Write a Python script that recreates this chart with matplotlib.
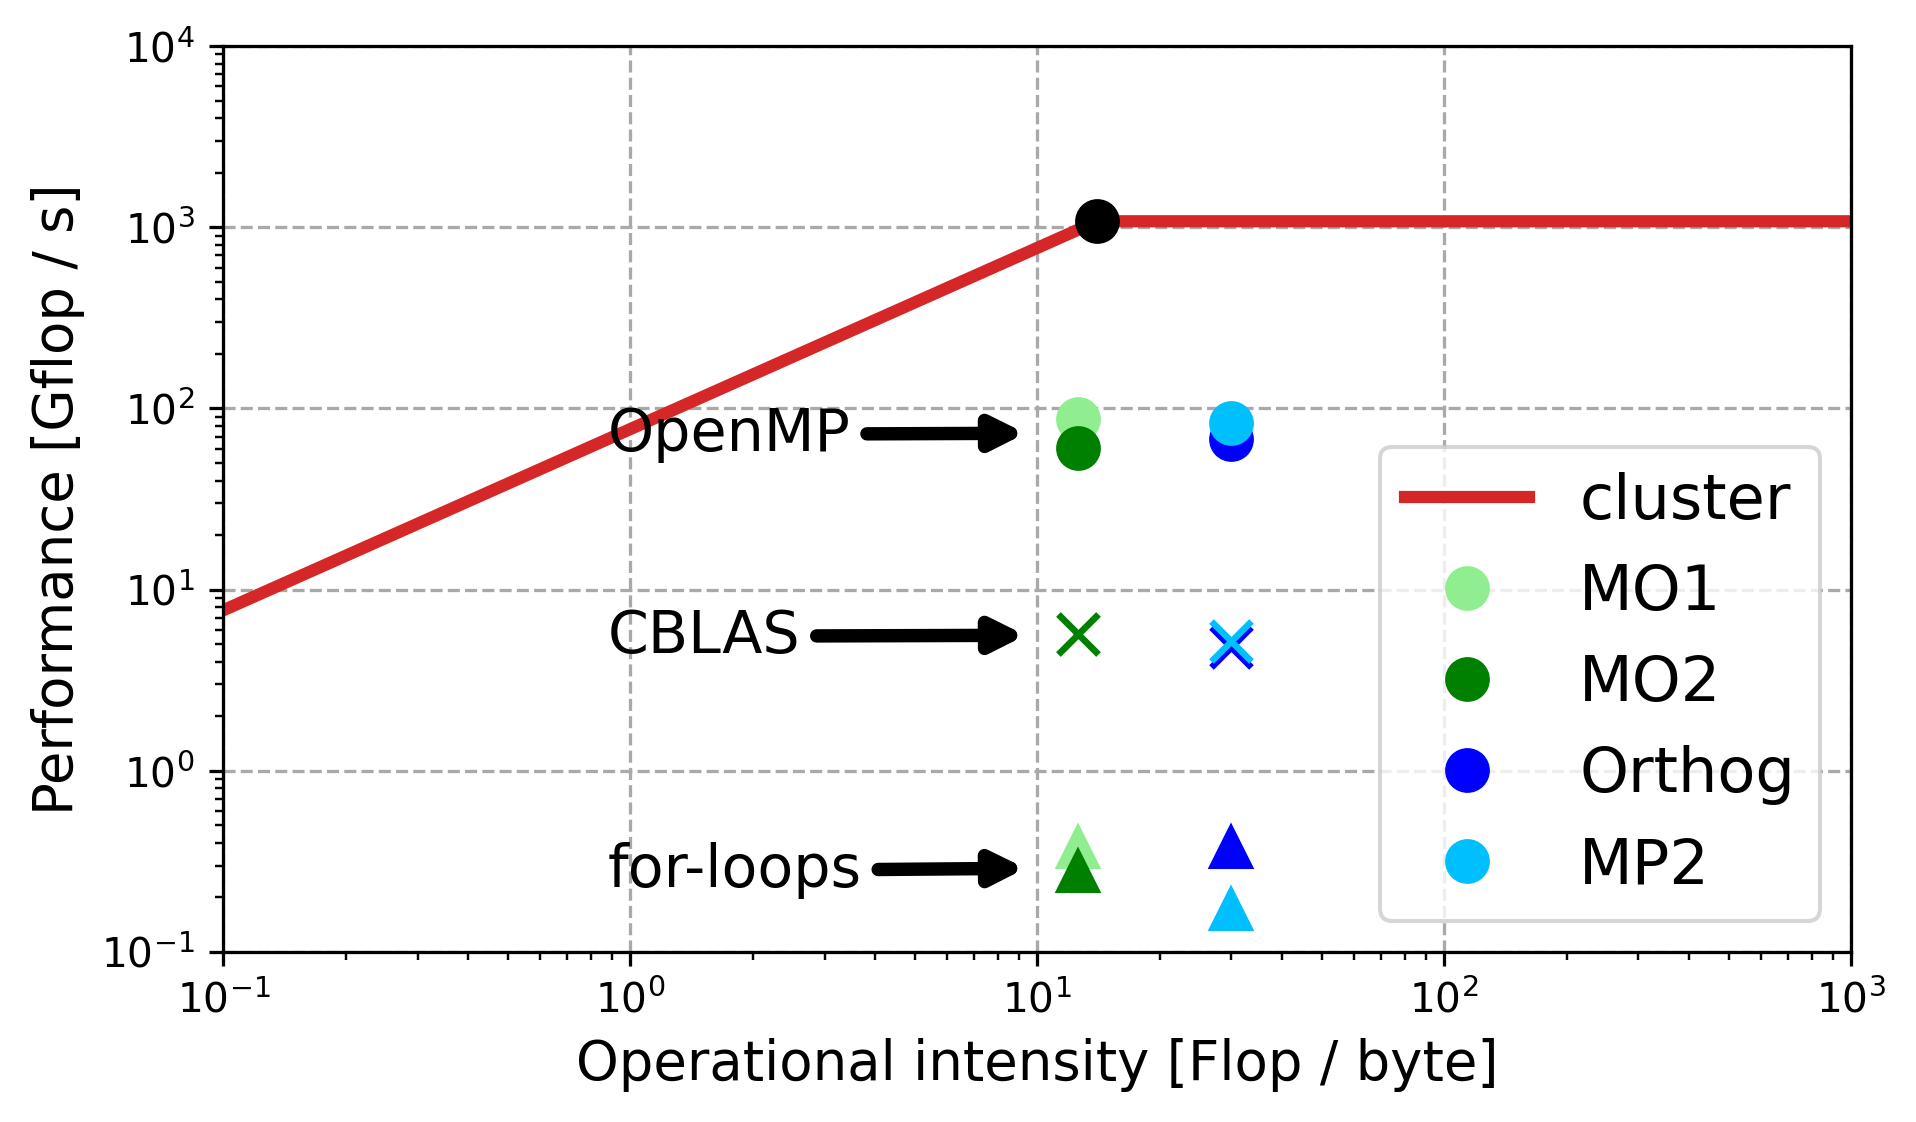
import numpy as np
import matplotlib
matplotlib.use('Agg')
import matplotlib.pyplot as plt

# roofline of the cluster
peak = 1080.0        # Gflop/s
bandwidth = 77.0     # GB/s
x_lim = [0.1, 1000]
y_lim = [0.1, 1e4]

# operational intensity of each kernel
oi_mo = 12.6
oi_orth = 30.0

# measured performance [Gflop/s] per implementation
openmp = {'MO1': 88, 'MO2': 60.5, 'Orthog': 67.5, 'MP2': 83}
cblas = {'MO1': 5.7, 'MO2': 5.7, 'Orthog': 4.8, 'MP2': 5.2}
loops = {'MO1': 0.38, 'MO2': 0.28, 'Orthog': 0.38, 'MP2': 0.172}

kernels = ['MO1', 'MO2', 'Orthog', 'MP2']
kernel_oi = {'MO1': oi_mo, 'MO2': oi_mo, 'Orthog': oi_orth, 'MP2': oi_orth}
colors = {'MO1': 'lightgreen', 'MO2': 'green', 'Orthog': 'blue', 'MP2': 'deepskyblue'}

# annotation labels: (text, y of text, y of arrow tip)
notes = [('OpenMP', 72, 73), ('CBLAS', 5.53, 5.6), ('for-loops', 0.281, 0.29)]

dpi = 293
fig = plt.figure(figsize=(1916.3 / dpi, 1122.3 / dpi), dpi=dpi)
ax = fig.add_axes([0.1166, 0.1515, 0.966 - 0.1166, 0.9586 - 0.1515])

ridge = peak / bandwidth
xr = np.array([x_lim[0], ridge, x_lim[1]])
yr = np.minimum(bandwidth * xr, peak)
ax.plot(xr, yr, color='tab:red', lw=3, label='cluster', zorder=2)
ax.plot([ridge], [peak], 'o', color='black', ms=10, zorder=3)

for k in kernels:
    ax.plot(kernel_oi[k], openmp[k], 'o', color=colors[k], ms=10, label=k, zorder=3)
for k in kernels:
    ax.plot(kernel_oi[k], cblas[k], 'x', color=colors[k], ms=10, mew=1.6, zorder=3)
for k in kernels:
    ax.plot(kernel_oi[k], loops[k], '^', color=colors[k], ms=10, zorder=3)

for text, ty, ay in notes:
    ax.annotate(text, xy=(9.8, ay), xytext=(0.88, ty), fontsize=14.4, va='center', ha='left',
                arrowprops=dict(arrowstyle='-|>', color='black', lw=3.3, mutation_scale=16))

ax.set_xscale('log')
ax.set_yscale('log')
ax.set_xlim(x_lim)
ax.set_ylim(y_lim)
ax.grid(True, which='major', ls='--', color='darkgray')
ax.set_xlabel('Operational intensity [Flop / byte]', fontsize=13.4)
ax.set_ylabel('Performance [Gflop / s]', fontsize=13.4)
ax.legend(loc='lower right', fontsize=15.3)

fig.savefig('out.png', dpi=dpi)
